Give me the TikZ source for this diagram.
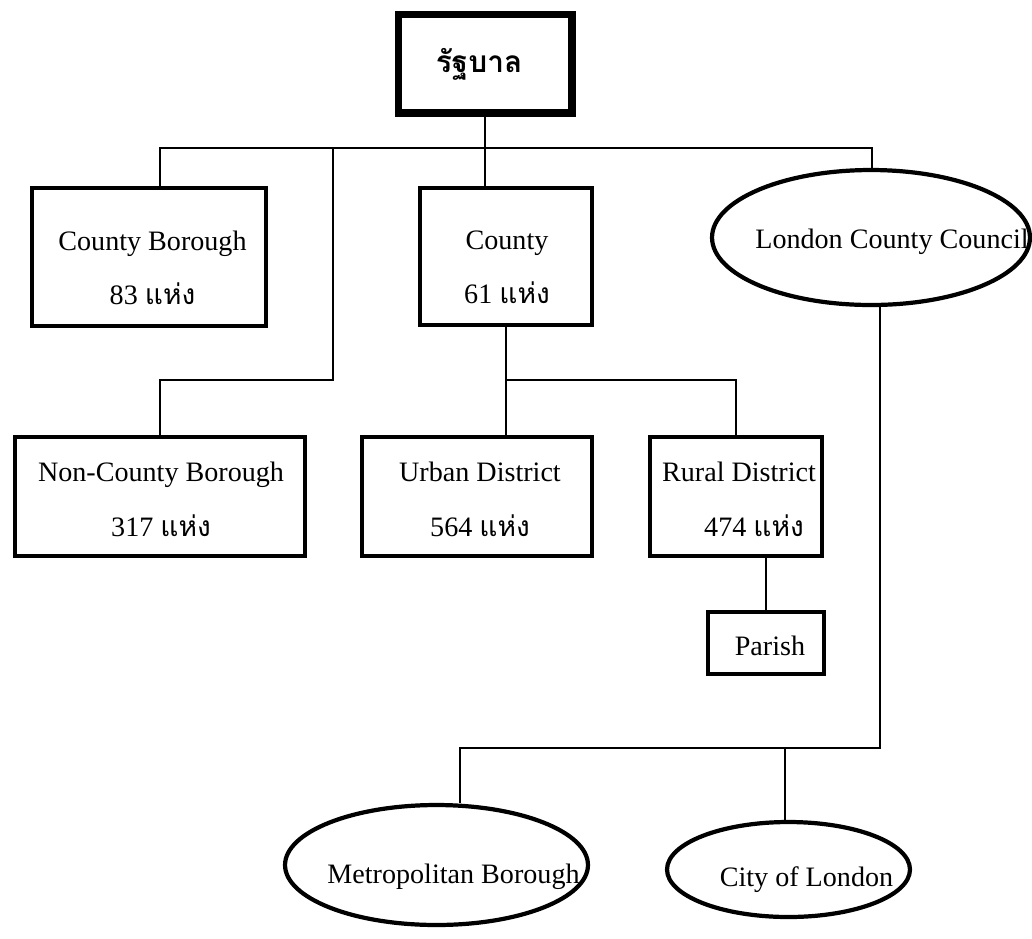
\documentclass[tikz,border=0pt]{standalone}
\usepackage{fontspec}
\setmainfont{Liberation Serif}
\newfontfamily\thai[Script=Thai]{Loma}
\usetikzlibrary{shapes.geometric}
\begin{document}
\begin{tikzpicture}[x=0.02cm,y=-0.02cm,
  box/.style={draw, line width=2.7pt, rectangle, inner sep=0pt},
  oval/.style={draw, line width=2.4pt, ellipse, inner sep=0pt},
  txt/.style={font=\fontsize{16}{31}\selectfont, align=center, inner sep=0pt},
  conn/.style={line width=1.1pt}]
\useasboundingbox (0,0) rectangle (1032,938);
\node[box, line width=4pt, minimum width=3.48cm, minimum height=1.98cm,
  label={[txt, font=\fontsize{17}{20}\selectfont, xshift=-0.12cm, yshift=-0.02cm]center:{\thai\bfseries รัฐบาล}}] (gov) at (485,63.5) {};
\node[box, minimum width=4.68cm, minimum height=2.76cm,
  label={[txt, xshift=0.07cm, yshift=-0.22cm]center:County Borough\\83 {\thai แห่ง}}] (cb) at (149,257) {};
\node[box, minimum width=3.44cm, minimum height=2.74cm,
  label={[txt, xshift=0.02cm, yshift=-0.22cm]center:County\\61 {\thai แห่ง}}] (county) at (506,256.5) {};
\node[oval, minimum width=6.36cm, minimum height=2.7cm,
  label={[txt, xshift=0.42cm, yshift=-0.08cm]center:London County Council}] (lcc) at (871,237.5) {};
\node[box, minimum width=5.8cm, minimum height=2.38cm,
  label={[txt, xshift=0.02cm, yshift=-0.06cm]center:Non-County Borough\\317 {\thai แห่ง}}] (ncb) at (160,496.5) {};
\node[box, minimum width=4.6cm, minimum height=2.38cm,
  label={[txt, xshift=0.06cm, yshift=-0.06cm]center:Urban District\\564 {\thai แห่ง}}] (ud) at (477,496.5) {};
\node[box, minimum width=3.44cm, minimum height=2.38cm,
  label={[txt, xshift=0.06cm, yshift=-0.06cm]center:Rural District\\\hspace*{0.6cm}474 {\thai แห่ง}}] (rd) at (736,496.5) {};
\node[box, minimum width=2.32cm, minimum height=1.24cm,
  label={[txt, xshift=0.08cm, yshift=-0.05cm]center:Parish}] (parish) at (766,643) {};
\node[oval, minimum width=6.06cm, minimum height=2.4cm,
  label={[txt, xshift=0.34cm, yshift=-0.24cm]center:Metropolitan Borough}] (mb) at (436.5,865) {};
\node[oval, minimum width=4.86cm, minimum height=1.9cm,
  label={[txt, xshift=0.36cm, yshift=-0.2cm]center:City of London}] (col) at (788.5,869.5) {};
\coordinate (busL) at (160,148);
\coordinate (busR) at (872,148);
\coordinate (bj) at (333,148);
\coordinate (bk) at (333,380);
\coordinate (cj) at (506,380);
\coordinate (lj) at (880,748);
\coordinate (mj) at (460,748);
\coordinate (cj2) at (785,748);
\draw[conn] (cb.north -| busL) -- (busL) -- (busR) -- (lcc.north -| busR);
\draw[conn] (gov.south) -- (gov.south |- county.north);
\draw[conn] (bj) -- (bk) -| (ncb.north);
\draw[conn] (county.south) -- (county.south |- ud.north);
\draw[conn] (cj) -| (rd.north);
\draw[conn] (parish.north) -- (parish.north |- rd.south);
\draw[conn] (lcc.south -| lj) -- (lj) -- (mj) -- (mb.north -| mj);
\draw[conn] (cj2) -- (col.north -| cj2);
\end{tikzpicture}
\end{document}
